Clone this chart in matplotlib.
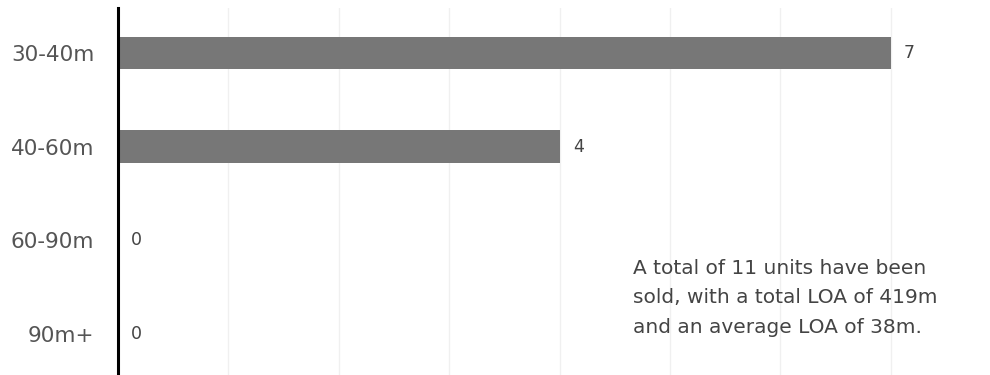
import numpy as np
import matplotlib
matplotlib.use('Agg')
import matplotlib.pyplot as plt

######## data
categories = ['30-40m', '40-60m', '60-90m', '90m+']
unitsSold = [7, 4, 0, 0]
noteText = 'A total of 11 units have been\nsold, with a total LOA of 419m\nand an average LOA of 38m.'

plt.rcParams['font.family'] = ['DejaVu Sans']

fig = plt.figure(figsize=(9.9, 3.75), dpi=100)
# axes: left edge at x=118px, top at y=8px, runs off the bottom/right of the image
ax = fig.add_axes([118/990, 0.0, 1 - 118/990, 1 - 8/375])

yPos = np.arange(len(categories))
ax.barh(yPos, unitsSold, height=0.35, color='#777777', zorder=2)

for y, v in zip(yPos, unitsSold):
    ax.text(v + 0.12, y, str(v), va='center', ha='left', fontsize=12.5, color='#444444')

ax.set_xlim(0, 7.9)
ax.set_ylim(3.44, -0.48)
ax.set_yticks(yPos)
ax.set_yticklabels(categories, fontsize=15.5, color='#555555')
ax.tick_params(axis='y', length=0, pad=17)
ax.tick_params(axis='x', length=0, labelbottom=False)
ax.set_xticks(np.arange(0, 8))
ax.grid(axis='x', color='#f0f0f0', linewidth=1, zorder=0)

for s in ['top', 'right', 'bottom']:
    ax.spines[s].set_visible(False)
ax.spines['left'].set_linewidth(2.2)
ax.spines['left'].set_color('black')
ax.spines['left'].set_zorder(3)

ax.text(4.67, 2.2, noteText, ha='left', va='top', fontsize=14.5, color='#444444', linespacing=1.7)

fig.savefig('out.png', dpi=100)
